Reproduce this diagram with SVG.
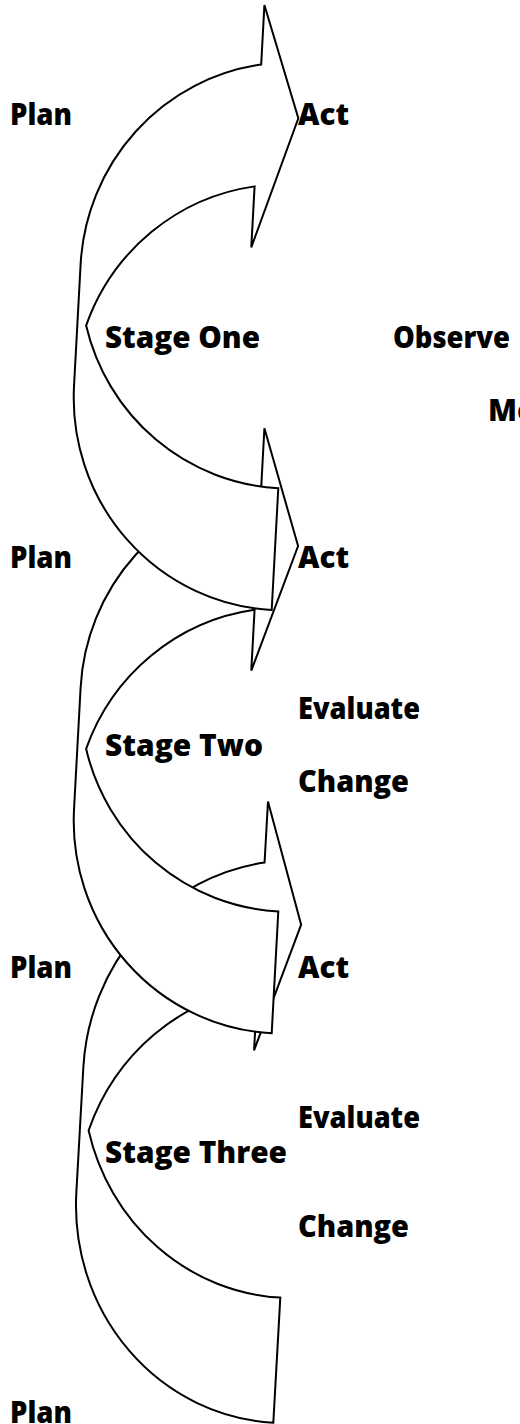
<svg xmlns="http://www.w3.org/2000/svg" width="520" height="1424" viewBox="0 0 520 1424">
  <style>
    .band { fill: #ffffff; stroke: #000000; stroke-width: 2; stroke-linejoin: miter; }
    .lbl { font-family: "Open Sans", "Liberation Sans", sans-serif; font-weight: 800; font-size: 30px; fill: #000000; }
  </style>
  <rect x="0" y="0" width="520" height="1424" fill="#ffffff"/>

  <!-- curved arrows: drawn bottom-most first so that upper stages overlap lower ones -->
  <g id="stage-three-arrow" transform="translate(273.3,1422.7) rotate(3.2) scale(1,1.027)">
    <path class="band" vector-effect="non-scaling-stroke" d="M -40 -544.08 A 209.5 213 0 0 0 -209.5 -335 L -209.5 -213 A 209.5 213 0 0 0 0 0 L 0 -122 A 209.5 213 0 0 1 -200.72 -274 A 209.5 213 0 0 1 -40 -422.08 L -40 -361 L 0 -485.7 L -40 -603.7 Z"/>
  </g>
  <g id="stage-two-arrow" transform="translate(271.7,1033.3) rotate(3.1)">
    <path class="band" d="M -40 -544.08 A 209.5 213 0 0 0 -209.5 -335 L -209.5 -213 A 209.5 213 0 0 0 0 0 L 0 -122 A 209.5 213 0 0 1 -200.72 -274 A 209.5 213 0 0 1 -40 -422.08 L -40 -361 L 0 -488 L -40 -603.7 Z"/>
  </g>
  <g id="stage-one-arrow" transform="translate(271.7,610) rotate(3.1)">
    <path class="band" d="M -40 -544.08 A 209.5 213 0 0 0 -209.5 -335 L -209.5 -213 A 209.5 213 0 0 0 0 0 L 0 -122 A 209.5 213 0 0 1 -200.72 -274 A 209.5 213 0 0 1 -40 -422.08 L -40 -361 L 0 -492.4 L -40 -603.7 Z"/>
  </g>

  <g id="labels">
    <text id="plan-1" class="lbl" x="10" y="125" textLength="62" lengthAdjust="spacingAndGlyphs">Plan</text>
    <text id="act-1" class="lbl" x="298" y="125" textLength="51" lengthAdjust="spacingAndGlyphs">Act</text>
    <text id="stage-one" class="lbl" x="105" y="348" textLength="155" lengthAdjust="spacingAndGlyphs">Stage One</text>
    <text id="observe" class="lbl" x="393" y="348" textLength="117" lengthAdjust="spacingAndGlyphs">Observe</text>
    <text id="modify" class="lbl" x="488" y="421">Modify</text>

    <text id="plan-2" class="lbl" x="10" y="568" textLength="62" lengthAdjust="spacingAndGlyphs">Plan</text>
    <text id="act-2" class="lbl" x="298" y="568" textLength="51" lengthAdjust="spacingAndGlyphs">Act</text>
    <text id="evaluate-1" class="lbl" x="298" y="719" textLength="122" lengthAdjust="spacingAndGlyphs">Evaluate</text>
    <text id="stage-two" class="lbl" x="105" y="756" textLength="158" lengthAdjust="spacingAndGlyphs">Stage Two</text>
    <text id="change-1" class="lbl" x="298" y="792" textLength="111" lengthAdjust="spacingAndGlyphs">Change</text>

    <text id="plan-3" class="lbl" x="10" y="978" textLength="62" lengthAdjust="spacingAndGlyphs">Plan</text>
    <text id="act-3" class="lbl" x="298" y="978" textLength="51" lengthAdjust="spacingAndGlyphs">Act</text>
    <text id="evaluate-2" class="lbl" x="298" y="1128" textLength="122" lengthAdjust="spacingAndGlyphs">Evaluate</text>
    <text id="stage-three" class="lbl" x="105" y="1163" textLength="182" lengthAdjust="spacingAndGlyphs">Stage Three</text>
    <text id="change-2" class="lbl" x="298" y="1237" textLength="111" lengthAdjust="spacingAndGlyphs">Change</text>

    <text id="plan-4" class="lbl" x="10" y="1423" textLength="62" lengthAdjust="spacingAndGlyphs">Plan</text>
  </g>
</svg>
